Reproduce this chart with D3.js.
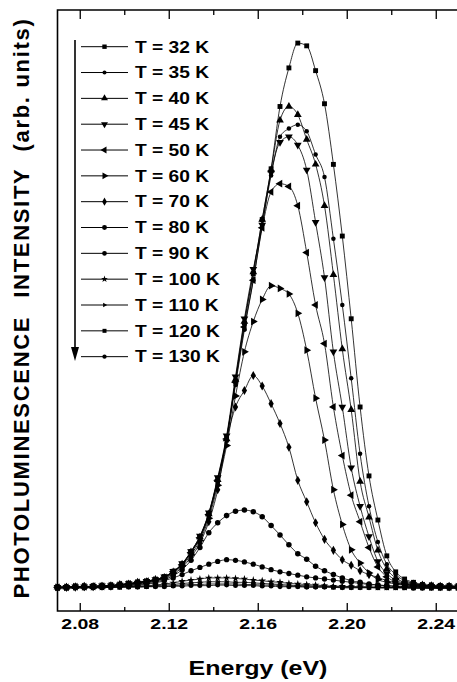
<!DOCTYPE html>
<html>
<head>
<meta charset="utf-8">
<script src="https://cdn.jsdelivr.net/npm/d3@7"></script>
<style>
body { margin: 0; background: #fff; }
text { font-family: "Liberation Sans", Arial, sans-serif; font-weight: bold; fill: #000; }
</style>
</head>
<body>
<div id="chart"></div>
<script>

// energy grid (eV) shared by every spectrum
var energy = [2.070,2.074,2.078,2.082,2.086,2.090,2.094,2.098,2.102,2.106,2.110,2.114,2.118,
	2.122,2.126,2.130,2.134,2.138,2.142,2.146,2.150,2.154,2.158,2.162,2.166,2.170,2.174,2.178,
	2.182,2.186,2.190,2.194,2.198,2.202,2.206,2.210,2.214,2.218,2.222,2.226,2.230,2.234,2.238,
	2.242,2.246,2.250];

// PL intensity (arb. units)
var t32 = [0.03,0.03,0.04,0.04,0.05,0.05,0.06,0.08,0.10,0.12,0.14,0.17,0.22,0.32,0.45,0.68,0.95,1.37,2.00,2.75,3.77,4.82,5.72,6.70,7.62,8.75,9.45,9.90,9.85,9.40,8.80,7.70,6.40,4.90,3.30,2.05,1.25,0.60,0.31,0.18,0.12,0.08,0.07,0.06,0.06,0.05];
var t35 = [0.03,0.04,0.03,0.04,0.05,0.06,0.06,0.07,0.09,0.11,0.14,0.16,0.21,0.31,0.44,0.66,0.92,1.33,1.95,2.70,3.70,4.70,5.60,6.60,7.50,8.20,8.35,8.42,8.30,7.88,7.47,6.35,5.15,3.82,2.45,1.50,0.85,0.45,0.26,0.15,0.10,0.07,0.06,0.05,0.05,0.04];
var t40 = [0.03,0.03,0.04,0.05,0.04,0.05,0.06,0.08,0.09,0.12,0.13,0.17,0.21,0.31,0.45,0.67,0.94,1.36,1.98,2.72,3.80,4.85,5.75,6.70,7.60,8.50,8.75,8.60,8.15,7.70,6.95,5.70,4.35,3.25,1.95,1.30,0.70,0.36,0.20,0.12,0.09,0.07,0.06,0.05,0.05,0.04];
var t45 = [0.03,0.03,0.04,0.04,0.05,0.06,0.06,0.07,0.10,0.11,0.14,0.17,0.22,0.32,0.46,0.68,0.96,1.38,2.02,2.78,3.85,4.90,5.80,6.60,7.55,8.10,8.20,8.05,7.60,6.65,5.65,4.30,3.30,2.20,1.50,0.95,0.50,0.28,0.16,0.10,0.08,0.06,0.05,0.05,0.04,0.04];
var t50 = [0.03,0.03,0.04,0.04,0.05,0.05,0.06,0.08,0.09,0.12,0.14,0.16,0.21,0.31,0.44,0.66,0.93,1.35,1.97,2.72,3.75,4.75,5.60,6.55,7.20,7.35,7.30,6.95,6.10,5.15,4.45,3.30,2.42,1.70,1.22,0.75,0.40,0.22,0.13,0.09,0.07,0.06,0.05,0.04,0.04,0.04];
var t60 = [0.03,0.03,0.04,0.04,0.04,0.05,0.06,0.07,0.09,0.11,0.13,0.16,0.20,0.29,0.42,0.62,0.88,1.28,1.88,2.60,3.50,4.30,4.85,5.25,5.50,5.45,5.35,5.00,4.33,3.46,2.70,1.80,1.17,0.71,0.47,0.29,0.17,0.12,0.09,0.07,0.06,0.05,0.05,0.04,0.04,0.04];
var t70 = [0.03,0.03,0.03,0.04,0.04,0.05,0.05,0.07,0.08,0.10,0.12,0.15,0.19,0.27,0.39,0.58,0.83,1.22,1.80,2.70,3.30,3.60,3.87,3.68,3.36,3.00,2.57,1.97,1.58,1.20,0.90,0.70,0.53,0.43,0.33,0.26,0.21,0.15,0.11,0.08,0.06,0.05,0.05,0.04,0.04,0.03];
var t80 = [0.03,0.03,0.03,0.03,0.04,0.04,0.05,0.06,0.07,0.09,0.11,0.13,0.17,0.24,0.35,0.52,0.75,1.02,1.20,1.33,1.41,1.43,1.40,1.31,1.15,0.98,0.80,0.64,0.54,0.41,0.33,0.26,0.20,0.15,0.12,0.09,0.07,0.06,0.05,0.05,0.04,0.04,0.04,0.03,0.03,0.03];
var t90 = [0.02,0.03,0.03,0.03,0.03,0.04,0.04,0.05,0.06,0.07,0.09,0.11,0.15,0.20,0.26,0.33,0.39,0.45,0.50,0.53,0.52,0.49,0.45,0.40,0.35,0.31,0.28,0.25,0.22,0.20,0.18,0.16,0.14,0.12,0.10,0.08,0.07,0.06,0.05,0.04,0.04,0.04,0.03,0.03,0.03,0.03];
var t100 = [0.02,0.02,0.03,0.03,0.03,0.03,0.04,0.04,0.05,0.05,0.06,0.07,0.09,0.11,0.14,0.16,0.18,0.20,0.20,0.20,0.19,0.18,0.16,0.15,0.13,0.12,0.10,0.09,0.08,0.07,0.06,0.05,0.05,0.04,0.04,0.04,0.03,0.03,0.03,0.03,0.03,0.03,0.02,0.02,0.02,0.02];
var t110 = [0.02,0.02,0.02,0.03,0.03,0.03,0.03,0.04,0.04,0.05,0.05,0.06,0.07,0.08,0.10,0.11,0.12,0.13,0.13,0.13,0.12,0.12,0.11,0.10,0.09,0.08,0.07,0.06,0.06,0.05,0.05,0.04,0.04,0.04,0.03,0.03,0.03,0.03,0.03,0.02,0.02,0.02,0.02,0.02,0.02,0.02];
var t120 = [0.02,0.02,0.02,0.02,0.03,0.03,0.03,0.03,0.04,0.04,0.04,0.05,0.05,0.06,0.07,0.08,0.08,0.09,0.09,0.09,0.09,0.08,0.08,0.07,0.07,0.06,0.05,0.05,0.04,0.04,0.04,0.03,0.03,0.03,0.03,0.03,0.02,0.02,0.02,0.02,0.02,0.02,0.02,0.02,0.02,0.02];
var t130 = [0.01,0.02,0.02,0.02,0.02,0.02,0.03,0.03,0.03,0.03,0.04,0.04,0.04,0.05,0.05,0.06,0.06,0.06,0.07,0.07,0.06,0.06,0.06,0.05,0.05,0.04,0.04,0.04,0.03,0.03,0.03,0.03,0.02,0.02,0.02,0.02,0.02,0.02,0.02,0.02,0.01,0.01,0.01,0.01,0.01,0.01];

var temps = [32, 35, 40, 45, 50, 60, 70, 80, 90, 100, 110, 120, 130];
var series = [t32, t35, t40, t45, t50, t60, t70, t80, t90, t100, t110, t120, t130];

var xTicks = [2.08, 2.12, 2.16, 2.20, 2.24];
var xMinor = [2.10, 2.14, 2.18, 2.22];

// marker for each temperature (symbol, area, rotation)
var markers = [
	[d3.symbolSquare, 24, 0],
	[d3.symbolCircle, 16, 0],
	[d3.symbolTriangle, 26, 0],
	[d3.symbolTriangle, 26, 180],
	[d3.symbolTriangle, 26, 270],
	[d3.symbolTriangle, 26, 90],
	[d3.symbolDiamond, 24, 0],
	[d3.symbolCircle, 24, 0],
	[d3.symbolCircle, 22, 0],
	[d3.symbolStar, 18, 0],
	[d3.symbolTriangle, 12, 90],
	[d3.symbolSquare, 20, 0],
	[d3.symbolCircle, 18, 0]
];

// set up the svg

var w = 457, h = 682;
var padL = 57.5, padT = 10, padB = 611;

var svg = d3.select("#chart")
	.append("svg")
	.attr("width", w)
	.attr("height", h);

var x = d3.scaleLinear().domain([2.07, 2.25]).range([padL, 458]);
var y = d3.scaleLinear().domain([-0.4, 10.5]).range([padB, padT]);

// axes: ticks point inward, bottom has labels

var bottomAxis = svg.append("g")
	.attr("transform", "translate(0," + padB + ")")
	.call(d3.axisBottom(x).tickValues(xTicks).tickSizeInner(-8).tickSizeOuter(0)
		.tickFormat(d3.format(".2f")));
bottomAxis.selectAll("text")
	.attr("y", 0).attr("dy", null)
	.attr("transform", "translate(0,17.5) scale(1.3,1)")
	.style("font-size", "15px");

svg.append("g")
	.attr("transform", "translate(0," + padB + ")")
	.call(d3.axisBottom(x).tickValues(xMinor).tickSizeInner(-4).tickSizeOuter(0).tickFormat(""));
svg.append("g")
	.attr("transform", "translate(0," + padT + ")")
	.call(d3.axisTop(x).tickValues(xTicks).tickSizeInner(-9).tickSizeOuter(0).tickFormat(""));
svg.append("g")
	.attr("transform", "translate(0," + padT + ")")
	.call(d3.axisTop(x).tickValues(xMinor).tickSizeInner(-5).tickSizeOuter(0).tickFormat(""));

svg.selectAll(".domain").remove();
svg.selectAll(".tick line").attr("stroke", "#000").attr("stroke-width", 1.3);

// frame
svg.append("path")
	.attr("d", "M" + (w + 2) + "," + padT + "H" + padL + "V" + padB + "H" + (w + 2))
	.attr("fill", "none")
	.attr("stroke", "#000")
	.attr("stroke-width", 1.6);

// axis titles
svg.append("text")
	.attr("transform", "translate(258,674.5) scale(1.25,1)")
	.attr("text-anchor", "middle")
	.style("font-size", "20px")
	.text("Energy (eV)");

var ylab = svg.append("text")
	.attr("transform", "translate(28.5,308) rotate(-90)")
	.attr("text-anchor", "middle")
	.style("font-size", "22px")
	.style("letter-spacing", "1.7px");
ylab.append("tspan").text("PHOTOLUMINESCENCE");
ylab.append("tspan").attr("dx", 18).text("INTENSITY");
ylab.append("tspan").attr("dx", 16).text("(arb. units)");

// spectra

var line = d3.line()
	.x(function(d, i) { return x(energy[i]); })
	.y(function(d) { return y(d); })
	.curve(d3.curveMonotoneX);

var plot = svg.append("g");

for (var s = series.length - 1; s >= 0; s--) {
	var mk = markers[s];
	var sym = d3.symbol().type(mk[0]).size(mk[1]);
	var g = plot.append("g");
	g.append("path")
		.attr("d", line(series[s]))
		.attr("fill", "none")
		.attr("stroke", "#000")
		.attr("stroke-width", 0.8);
	g.selectAll("path.pt")
		.data(series[s])
		.enter()
		.append("path")
		.attr("class", "pt")
		.attr("d", sym)
		.attr("fill", "#000")
		.attr("transform", function(d, i) {
			return "translate(" + x(energy[i]) + "," + y(d) + ") rotate(" + mk[2] + ")";
		});
}

// legend

var legY0 = 46.7, legStep = 25.83;
var leg = svg.append("g");

temps.forEach(function(t, i) {
	var ly = legY0 + i * legStep;
	var mk = markers[i];
	leg.append("line")
		.attr("x1", 81).attr("x2", 128)
		.attr("y1", ly).attr("y2", ly)
		.attr("stroke", "#000")
		.attr("stroke-width", 1);
	leg.append("path")
		.attr("d", d3.symbol().type(mk[0]).size(mk[1] * 0.8)())
		.attr("transform", "translate(104.5," + ly + ") rotate(" + mk[2] + ")")
		.attr("fill", "#000");
	leg.append("text")
		.attr("transform", "translate(135," + (ly + 5.8) + ") scale(1.2,1)")
		.style("font-size", "16px")
		.text("T = " + t + " K");
});

// arrow down the side of the legend
leg.append("line")
	.attr("x1", 75).attr("x2", 75)
	.attr("y1", 40).attr("y2", 350)
	.attr("stroke", "#000")
	.attr("stroke-width", 1.6);
leg.append("path")
	.attr("d", "M71,347L79,347L75,361Z")
	.attr("fill", "#000");

</script>
</body>
</html>
